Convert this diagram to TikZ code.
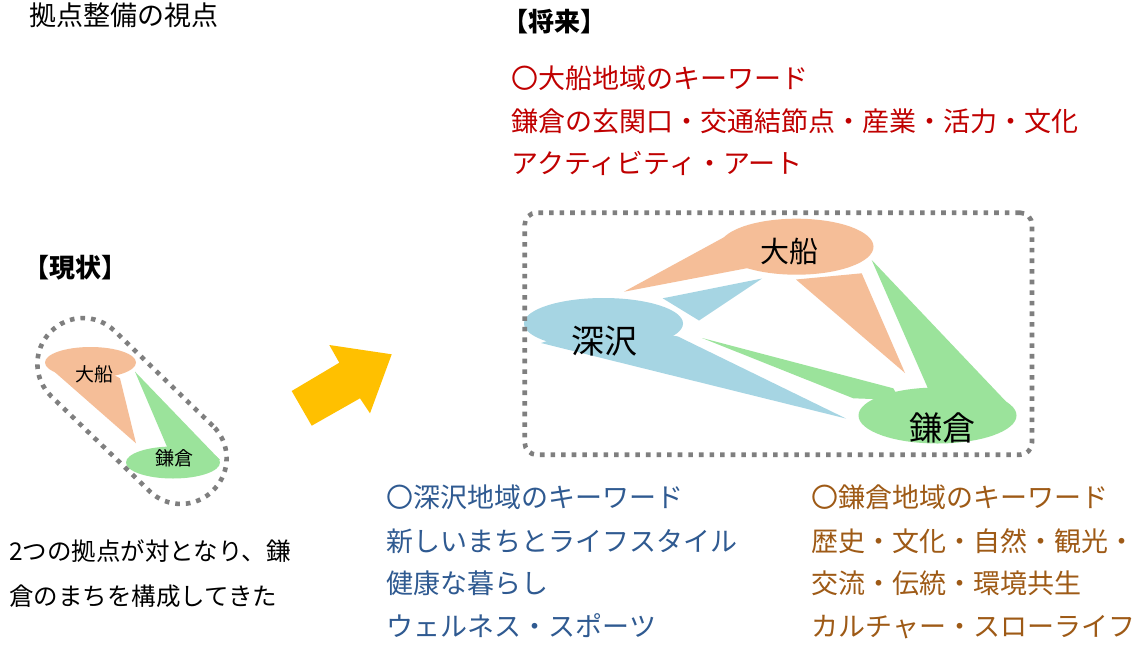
\documentclass[tikz,border=0pt]{standalone}
\usepackage{fontspec}
\setmainfont{Noto Sans CJK JP}
\definecolor{obcol}{HTML}{F5BE98}
\definecolor{kmcol}{HTML}{9BE39B}
\definecolor{fscol}{HTML}{A6D5E3}
\definecolor{dotcol}{HTML}{7F7F7F}
\definecolor{arrcol}{HTML}{FFC000}
\definecolor{redtxt}{HTML}{C00000}
\definecolor{bluetxt}{HTML}{2F5A91}
\definecolor{browntxt}{HTML}{9E5A16}
\begin{document}
\begin{tikzpicture}[x=1pt,y=-1pt,
  dotline/.style={draw=dotcol, line width=4.6pt, dash pattern=on 4.6pt off 6pt},
  lbl/.style={anchor=base west, inner sep=0pt},
  fs/.style={font=\fontsize{#1pt}{#1pt}\selectfont},
  place/.style={inner sep=0pt}
]
\path[use as bounding box, fill=white] (0,0) rectangle (1144,646);

% ---------- current state (small) ----------
\fill[obcol] (90.5,362.5) ellipse [x radius=45.5pt, y radius=15.5pt];
\fill[obcol] (46.7,365) -- (136,443.3) -- (120,378.3) -- (90,362) -- cycle;
\fill[kmcol] (173,462.5) ellipse [x radius=47pt, y radius=16pt];
\fill[kmcol] (135,371.7) -- (220,460) -- (173,462.5) -- (166.7,446) -- cycle;
\node[place, fs=19] (sob) at (94,374) {大船};
\node[place, fs=19] (skm) at (174,458) {鎌倉};
\node[dotline, rectangle, rounded corners=45pt, minimum width=227pt,
      minimum height=91pt, rotate=-44] (nowbox) at (132,411) {};

% ---------- arrow ----------
\fill[arrcol] (291.7,391) -- (339.3,362.7) -- (329.3,345) -- (391.7,354.3)
   -- (370,413.3) -- (360,398.3) -- (311.7,425.7) -- cycle;

% ---------- future (large) ----------
\fill[obcol] (796.5,246.7) ellipse [x radius=77pt, y radius=28pt];
\fill[obcol] (624,291.7) -- (730,234) -- (796,246) -- (748,268) -- cycle;
\fill[obcol] (796,279.5) -- (861.7,273.3) -- (905,373) -- cycle;

\fill[fscol] (603.5,323.5) ellipse [x radius=79.5pt, y radius=25.5pt];
\fill[fscol] (541,343) -- (846,418.5) -- (678,336.5) -- (603,323) -- cycle;
\fill[fscol] (662.7,298.3) -- (762,278.5) -- (699,320.5) -- cycle;

\fill[kmcol] (937.5,415.5) ellipse [x radius=79pt, y radius=28pt];
\fill[kmcol] (871.7,260) -- (1015,411) -- (937,415) -- (928,388.5) -- cycle;
\fill[kmcol] (702,338) -- (893.3,388.3) -- (900,400) -- (853.3,398.3) -- cycle;

\node[place, fs=29] (ob) at (789,251.5) {大船};
\node[place, fs=33] (fs) at (604,341.5) {深沢};
\node[place, fs=33] (km) at (942.5,428) {鎌倉};

\node[dotline, rectangle, rounded corners=12pt, minimum width=507.3pt,
      minimum height=242pt] (futbox) at (778.35,333.7) {};

% ---------- texts ----------
\node[lbl, fs=27] (title) at (29,25.5) {拠点整備の視点};
\node[lbl, fs=26] (nowlbl) at (23,277) {\bfseries 【現状】};
\node[lbl, fs=26] (futlbl) at (502,31) {\bfseries 【将来】};

\node[lbl, fs=27, text=redtxt] (r1) at (511.4,88.5) {〇大船地域のキーワード};
\node[lbl, fs=27, text=redtxt] (r2) at (511.4,131) {鎌倉の玄関口・交通結節点・産業・活力・文化};
\node[lbl, fs=27, text=redtxt] (r3) at (511.4,173.5) {アクティビティ・アート};

\node[lbl, fs=27, text=bluetxt] (b1) at (386.4,507.5) {〇深沢地域のキーワード};
\node[lbl, fs=27, text=bluetxt] (b2) at (386.4,551) {新しいまちとライフスタイル};
\node[lbl, fs=27, text=bluetxt] (b3) at (386.4,593.5) {健康な暮らし};
\node[lbl, fs=27, text=bluetxt] (b4) at (386.4,636) {ウェルネス・スポーツ};

\node[lbl, fs=27, text=browntxt] (k1) at (811.4,507.5) {〇鎌倉地域のキーワード};
\node[lbl, fs=27, text=browntxt] (k2) at (811.4,551) {歴史・文化・自然・観光・};
\node[lbl, fs=27, text=browntxt] (k3) at (811.4,593.5) {交流・伝統・環境共生};
\node[lbl, fs=27, text=browntxt] (k4) at (811.4,636) {カルチャー・スローライフ};

\node[lbl, fs=24.5] (cap1) at (9,560) {2つの拠点が対となり、鎌};
\node[lbl, fs=24.5] (cap2) at (9,605) {倉のまちを構成してきた};
\end{tikzpicture}
\end{document}
